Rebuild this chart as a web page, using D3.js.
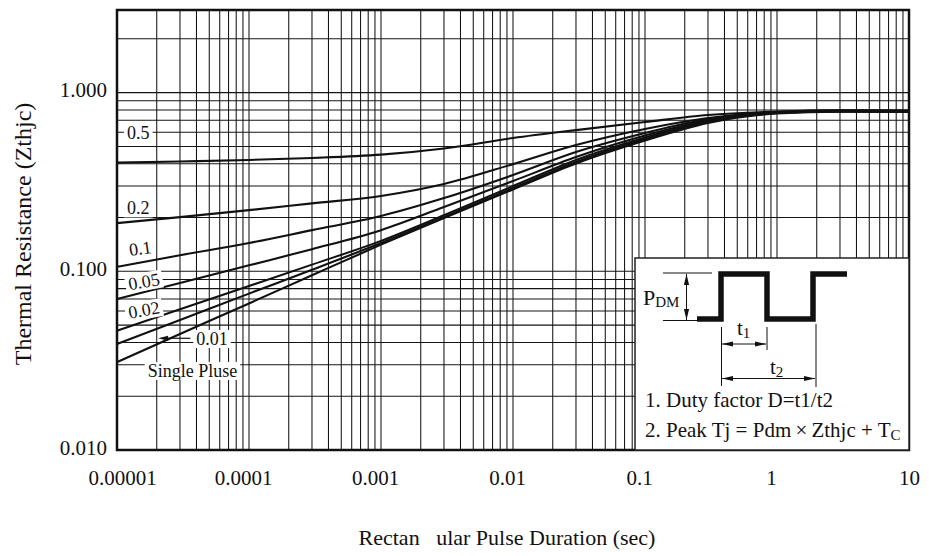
<!DOCTYPE html>
<html>
<head>
<meta charset="utf-8">
<script src="https://cdn.jsdelivr.net/npm/d3@7"></script>
<style>
  body { margin: 0; background: #fff; }
  svg { display: block; }
  text { font-family: "Liberation Serif", "Times New Roman", serif; fill: #111; }
</style>
</head>
<body>
<svg id="chart" width="929" height="556"></svg>
<script>
// Pulse duration (s) sample points shared by every duty-factor curve
const durations = [1e-5, 3e-5, 1e-4, 3e-4, 1e-3, 3e-3, 1e-2, 3e-2, 0.1, 0.3, 1, 3, 10];

// Transient thermal impedance Zthjc for each duty factor
const zthD05    = [0.406, 0.412, 0.420, 0.431, 0.450, 0.487, 0.557, 0.617, 0.685, 0.749, 0.784, 0.797, 0.795];
const zthD02    = [0.186, 0.201, 0.220, 0.240, 0.264, 0.308, 0.398, 0.509, 0.626, 0.721, 0.779, 0.793, 0.791];
const zthD01    = [0.106, 0.123, 0.144, 0.170, 0.204, 0.257, 0.346, 0.465, 0.594, 0.712, 0.774, 0.790, 0.788];
const zthD005   = [0.070, 0.086, 0.108, 0.133, 0.170, 0.229, 0.320, 0.436, 0.575, 0.703, 0.774, 0.788, 0.785];
const zthD002   = [0.0465, 0.0613, 0.0827, 0.109, 0.148, 0.206, 0.300, 0.420, 0.561, 0.694, 0.769, 0.786, 0.783];
const zthD001   = [0.0392, 0.0534, 0.075, 0.102, 0.144, 0.201, 0.292, 0.409, 0.550, 0.685, 0.769, 0.784, 0.781];
const zthSingle = [0.0310, 0.0446, 0.0661, 0.095, 0.141, 0.199, 0.287, 0.401, 0.539, 0.676, 0.764, 0.782, 0.779];

const seriesNames = ["0.5", "0.2", "0.1", "0.05", "0.02", "0.01", "Single Pluse"];
const seriesValues = [zthD05, zthD02, zthD01, zthD005, zthD002, zthD001, zthSingle];

// Axis ticks
const xTickValues = [1e-5, 1e-4, 1e-3, 1e-2, 1e-1, 1, 10];
const xTickLabels = ["0.00001", "0.0001", "0.001", "0.01", "0.1", "1", "10"];
const yTickValues = [0.01, 0.1, 1];
const yTickLabels = ["0.010", "0.100", "1.000"];

// Curve label anchors (duration, Zthjc) and tilt
const curveLabels = [
  { text: "0.5",  t: 1.45e-5, z: 0.594, rot: 0 },
  { text: "0.2",  t: 1.45e-5, z: 0.225, rot: 0 },
  { text: "0.1",  t: 1.5e-5,  z: 0.134, rot: -8 },
  { text: "0.05", t: 1.6e-5,  z: 0.0875, rot: -10 },
  { text: "0.02", t: 1.6e-5,  z: 0.0607, rot: -10 },
  { text: "0.01", t: 5.25e-5, z: 0.0418, rot: 0 },
  { text: "Single Pluse", t: 3.73e-5, z: 0.0277, rot: 0 }
];

const svg = d3.select("#chart");

const x = d3.scaleLog().domain([1e-5, 10]).range([117, 909]);
const y = d3.scaleLog().domain([0.01, 2.9]).range([450, 10]);

// Minor/major log grid
const xGrid = [];
for (let k = -5; k <= 0; k++) for (let m = 1; m <= 9; m++) xGrid.push(m * Math.pow(10, k));
xGrid.push(10);
const yGrid = [];
for (let k = -2; k <= -1; k++) for (let m = 1; m <= 9; m++) yGrid.push(m * Math.pow(10, k));
yGrid.push(1, 2);

const grid = svg.append("g").attr("stroke", "#141414").attr("stroke-width", 1.05);
grid.selectAll("line.v").data(xGrid).join("line")
  .attr("x1", d => x(d)).attr("x2", d => x(d))
  .attr("y1", y.range()[0]).attr("y2", y.range()[1]);
grid.selectAll("line.h").data(yGrid).join("line")
  .attr("y1", d => y(d)).attr("y2", d => y(d))
  .attr("x1", x.range()[0]).attr("x2", x.range()[1]);

// Curves
const line = d3.line()
  .x(d => x(d[0]))
  .y(d => y(d[1]))
  .curve(d3.curveMonotoneX);

svg.append("g")
  .selectAll("path")
  .data(seriesValues)
  .join("path")
  .attr("fill", "none")
  .attr("stroke", "#111")
  .attr("stroke-width", 2.1)
  .attr("d", vals => line(durations.map((t, i) => [t, vals[i]])));

// Curve labels on white patches
const labG = svg.append("g");
curveLabels.forEach(l => {
  const g = labG.append("g")
    .attr("transform", `translate(${x(l.t)},${y(l.z)}) rotate(${l.rot})`);
  const rect = g.append("rect").attr("fill", "#fff");
  const txt = g.append("text")
    .attr("text-anchor", "middle")
    .attr("dominant-baseline", "central")
    .attr("font-size", 18)
    .text(l.text);
  const bb = txt.node().getBBox();
  rect.attr("x", bb.x - 3).attr("y", bb.y + 1).attr("width", bb.width + 6).attr("height", bb.height - 2);
});

// Arrow pointing at the 0.01 curve
const arrY = y(0.0422);
svg.append("line")
  .attr("x1", x(2.3e-5)).attr("x2", x(3.6e-5))
  .attr("y1", arrY).attr("y2", arrY)
  .attr("stroke", "#111").attr("stroke-width", 1.2);
svg.append("path")
  .attr("d", `M${x(2.05e-5)},${arrY} l10,-2.5 l0,5 z`)
  .attr("fill", "#111");

// Frame
svg.append("rect")
  .attr("x", x.range()[0]).attr("y", y.range()[1])
  .attr("width", x.range()[1] - x.range()[0])
  .attr("height", y.range()[0] - y.range()[1])
  .attr("fill", "none").attr("stroke", "#111").attr("stroke-width", 2.5);

// Axes
const xAxis = d3.axisBottom(x).tickValues(xTickValues)
  .tickFormat((d, i) => xTickLabels[i]).tickSize(0).tickPadding(0);
const gx = svg.append("g").attr("transform", `translate(0,${y.range()[0]})`).call(xAxis);
gx.select(".domain").remove();
gx.selectAll("text")
  .attr("font-size", 21)
  .attr("font-family", "Liberation Serif")
  .attr("fill", "#111")
  .attr("y", 35).attr("dy", 0)
  .attr("dx", (d, i) => i === 0 ? 5 : (i === xTickValues.length - 1 ? 0 : -6));

const yAxis = d3.axisLeft(y).tickValues(yTickValues)
  .tickFormat((d, i) => yTickLabels[i]).tickSize(0).tickPadding(10);
const gy = svg.append("g").attr("transform", `translate(${x.range()[0]},0)`).call(yAxis);
gy.select(".domain").remove();
gy.selectAll("text")
  .attr("font-size", 21)
  .attr("font-family", "Liberation Serif")
  .attr("fill", "#111")
  .attr("dy", "0.3em")
  .attr("y", -2);

// Axis titles
svg.append("text")
  .attr("transform", "translate(22.5,234) rotate(-90)")
  .attr("text-anchor", "middle")
  .attr("dominant-baseline", "central")
  .attr("font-size", 24)
  .text("Thermal Resistance (Zthjc)");

svg.append("text")
  .attr("x", 507).attr("y", 545)
  .attr("text-anchor", "middle")
  .attr("font-size", 22)
  .text("Rectan\u00a0\u00a0\u00a0ular Pulse Duration (sec)");

// Inset: pulse waveform definition
const inset = svg.append("g");
inset.append("rect")
  .attr("x", 635).attr("y", 258)
  .attr("width", x.range()[1] - 635).attr("height", y.range()[0] - 258)
  .attr("fill", "#fff").attr("stroke", "#222").attr("stroke-width", 1.5);

inset.append("path")
  .attr("d", "M697,319 H721 V274 H767 V319 H813 V274 H847")
  .attr("fill", "none").attr("stroke", "#111").attr("stroke-width", 5.5)
  .attr("stroke-linejoin", "miter");

function seg(x1, y1, x2, y2) {
  inset.append("line").attr("x1", x1).attr("y1", y1).attr("x2", x2).attr("y2", y2)
    .attr("stroke", "#111").attr("stroke-width", 1);
}
function head(tx, ty, dir) {
  // dir: "l", "r", "u", "d" – direction the tip points
  const L = 11, W = 2.6;
  let d;
  if (dir === "l") d = `M${tx},${ty} L${tx + L},${ty - W} L${tx + L},${ty + W} Z`;
  if (dir === "r") d = `M${tx},${ty} L${tx - L},${ty - W} L${tx - L},${ty + W} Z`;
  if (dir === "u") d = `M${tx},${ty} L${tx - W},${ty + L} L${tx + W},${ty + L} Z`;
  if (dir === "d") d = `M${tx},${ty} L${tx - W},${ty - L} L${tx + W},${ty - L} Z`;
  inset.append("path").attr("d", d).attr("fill", "#111");
}

// P_DM dimension
seg(663, 273, 712, 273);
seg(663, 320.5, 697, 320.5);
seg(686.5, 274, 686.5, 320);
head(686.5, 274, "u");
head(686.5, 320, "d");

// t1 / t2 dimensions
seg(721.5, 327, 721.5, 386);
seg(767, 327, 767, 350);
seg(816, 324, 816, 387);
seg(722, 344, 766, 344);
head(722, 344, "l");
head(766, 344, "r");
seg(722, 378.5, 815, 378.5);
head(722, 378.5, "l");
head(815, 378.5, "r");

function subText(px, py, main, sub, size, subSize, subDy) {
  const t = inset.append("text").attr("x", px).attr("y", py).attr("font-size", size);
  t.append("tspan").text(main);
  t.append("tspan").attr("font-size", subSize).attr("dy", subDy).text(sub);
  return t;
}
subText(643, 305, "P", "DM", 22, 15, 2);
subText(737, 335, "t", "1", 21, 15, 3);
subText(770, 374, "t", "2", 21, 15, 3);

inset.append("text").attr("x", 645).attr("y", 407).attr("font-size", 21)
  .text("1. Duty factor D=t1/t2");
const l2 = inset.append("text").attr("x", 645).attr("y", 437).attr("font-size", 21);
l2.append("tspan").text("2. Peak Tj = Pdm\u2009\u00d7\u2009Zthjc + T");
l2.append("tspan").attr("font-size", 15).attr("dy", 3).text("C");
</script>
</body>
</html>
